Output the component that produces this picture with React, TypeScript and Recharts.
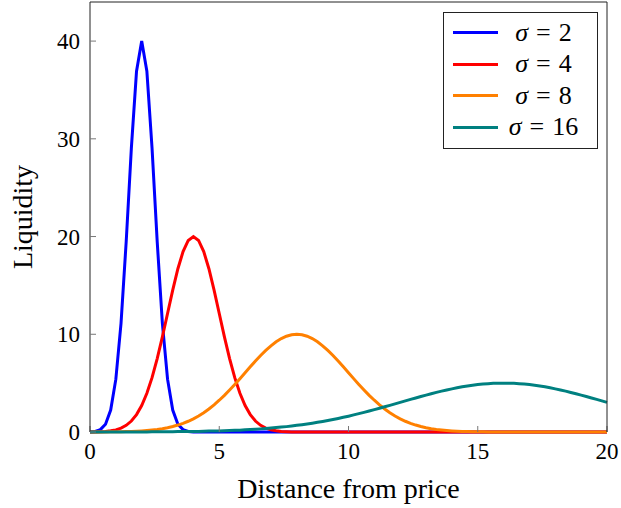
import { LineChart, Line, XAxis, YAxis, Legend } from 'recharts';

// distance from price, sampled every 0.2
const distance = [
  0, 0.2, 0.4, 0.6, 0.8, 1, 1.2, 1.4, 1.6, 1.8,
  2, 2.2, 2.4, 2.6, 2.8, 3, 3.2, 3.4, 3.6, 3.8,
  4, 4.2, 4.4, 4.6, 4.8, 5, 5.2, 5.4, 5.6, 5.8,
  6, 6.2, 6.4, 6.6, 6.8, 7, 7.2, 7.4, 7.6, 7.8,
  8, 8.2, 8.4, 8.6, 8.8, 9, 9.2, 9.4, 9.6, 9.8,
  10, 10.2, 10.4, 10.6, 10.8, 11, 11.2, 11.4, 11.6, 11.8,
  12, 12.2, 12.4, 12.6, 12.8, 13, 13.2, 13.4, 13.6, 13.8,
  14, 14.2, 14.4, 14.6, 14.8, 15, 15.2, 15.4, 15.6, 15.8,
  16, 16.2, 16.4, 16.6, 16.8, 17, 17.2, 17.4, 17.6, 17.8,
  18, 18.2, 18.4, 18.6, 18.8, 19, 19.2, 19.4, 19.6, 19.8,
  20,
];

const sigma2 = [
  0.01, 0.06, 0.24, 0.79, 2.25, 5.41, 11.12, 19.47, 29.05, 36.92,
  40, 36.92, 29.05, 19.47, 11.12, 5.41, 2.25, 0.79, 0.24, 0.06,
  0.01, 0, 0, 0, 0, 0, 0, 0, 0, 0,
  0, 0, 0, 0, 0, 0, 0, 0, 0, 0,
  0, 0, 0, 0, 0, 0, 0, 0, 0, 0,
  0, 0, 0, 0, 0, 0, 0, 0, 0, 0,
  0, 0, 0, 0, 0, 0, 0, 0, 0, 0,
  0, 0, 0, 0, 0, 0, 0, 0, 0, 0,
  0, 0, 0, 0, 0, 0, 0, 0, 0, 0,
  0, 0, 0, 0, 0, 0, 0, 0, 0, 0,
  0,
];

const sigma4 = [
  0.01, 0.01, 0.03, 0.06, 0.12, 0.22, 0.4, 0.68, 1.12, 1.78,
  2.71, 3.96, 5.56, 7.51, 9.74, 12.13, 14.52, 16.71, 18.46, 19.6,
  20, 19.6, 18.46, 16.71, 14.52, 12.13, 9.74, 7.51, 5.56, 3.96,
  2.71, 1.78, 1.12, 0.68, 0.4, 0.22, 0.12, 0.06, 0.03, 0.01,
  0.01, 0, 0, 0, 0, 0, 0, 0, 0, 0,
  0, 0, 0, 0, 0, 0, 0, 0, 0, 0,
  0, 0, 0, 0, 0, 0, 0, 0, 0, 0,
  0, 0, 0, 0, 0, 0, 0, 0, 0, 0,
  0, 0, 0, 0, 0, 0, 0, 0, 0, 0,
  0, 0, 0, 0, 0, 0, 0, 0, 0, 0,
  0,
];

const sigma8 = [
  0, 0.01, 0.01, 0.01, 0.02, 0.02, 0.03, 0.04, 0.06, 0.08,
  0.11, 0.15, 0.2, 0.26, 0.34, 0.44, 0.56, 0.71, 0.89, 1.1,
  1.35, 1.64, 1.98, 2.36, 2.78, 3.25, 3.75, 4.3, 4.87, 5.46,
  6.07, 6.67, 7.26, 7.83, 8.35, 8.82, 9.23, 9.56, 9.8, 9.95,
  10, 9.95, 9.8, 9.56, 9.23, 8.82, 8.35, 7.83, 7.26, 6.67,
  6.07, 5.46, 4.87, 4.3, 3.75, 3.25, 2.78, 2.36, 1.98, 1.64,
  1.35, 1.1, 0.89, 0.71, 0.56, 0.44, 0.34, 0.26, 0.2, 0.15,
  0.11, 0.08, 0.06, 0.04, 0.03, 0.02, 0.02, 0.01, 0.01, 0.01,
  0, 0, 0, 0, 0, 0, 0, 0, 0, 0,
  0, 0, 0, 0, 0, 0, 0, 0, 0, 0,
  0,
];

const sigma16 = [
  0, 0, 0, 0, 0, 0, 0.01, 0.01, 0.01, 0.01,
  0.01, 0.01, 0.02, 0.02, 0.02, 0.03, 0.03, 0.04, 0.04, 0.05,
  0.06, 0.06, 0.08, 0.09, 0.1, 0.11, 0.13, 0.15, 0.17, 0.19,
  0.22, 0.25, 0.28, 0.32, 0.36, 0.4, 0.45, 0.5, 0.55, 0.61,
  0.68, 0.75, 0.82, 0.9, 0.99, 1.08, 1.18, 1.28, 1.39, 1.5,
  1.62, 1.75, 1.88, 2.01, 2.15, 2.29, 2.43, 2.58, 2.73, 2.88,
  3.03, 3.18, 3.34, 3.48, 3.63, 3.77, 3.91, 4.05, 4.18, 4.3,
  4.41, 4.52, 4.62, 4.7, 4.78, 4.85, 4.9, 4.94, 4.98, 4.99,
  5, 4.99, 4.98, 4.94, 4.9, 4.85, 4.78, 4.7, 4.62, 4.52,
  4.41, 4.3, 4.18, 4.05, 3.91, 3.77, 3.63, 3.48, 3.34, 3.18,
  3.03,
];

const xTicks = [0, 5, 10, 15, 20];
const yTicks = [0, 10, 20, 30, 40];

const sigmas = ['2', '4', '8', '16'];
const colors = ['#0000ff', '#ff0000', '#ff8000', '#008080'];
const keys = ['s2', 's4', 's8', 's16'];

const data = distance.map((d, i) => ({
  d,
  s2: sigma2[i],
  s4: sigma4[i],
  s8: sigma8[i],
  s16: sigma16[i],
}));

const FONT = '"Liberation Serif", "DejaVu Serif", serif';
const tickStyle = { fontFamily: FONT, fontSize: 23, fill: '#000' };
const labelStyle = { fontFamily: FONT, fontSize: 28, fill: '#000' };

function LegendBox() {
  return (
    <div
      style={{
        border: '1px solid #222',
        background: '#fff',
        boxSizing: 'border-box',
        width: 155,
        height: 137,
        paddingTop: 4,
        fontFamily: FONT,
        fontSize: 26,
      }}
    >
      {sigmas.map((s, i) => (
        <div key={s} style={{ display: 'flex', alignItems: 'center', height: 31.5 }}>
          <div style={{ width: 45, height: 3, background: colors[i], marginLeft: 9, flexShrink: 0 }} />
          <div style={{ flex: 1, textAlign: 'center', whiteSpace: 'nowrap', paddingRight: 8 }}>
            <i>σ</i>
            <span style={{ margin: '0 8px' }}>=</span>
            {s}
          </div>
        </div>
      ))}
    </div>
  );
}

export default function App() {
  return (
    <div style={{ position: 'absolute', left: 0, top: 0 }}>
      <LineChart width={621} height={508} data={data} margin={{ top: 0, right: 0, bottom: 0, left: 0 }}>
        <XAxis
          dataKey="d"
          type="number"
          domain={[0, 20]}
          ticks={xTicks}
          height={76}
          tickSize={-6}
          tickMargin={17}
          tick={tickStyle}
          axisLine={false}
          tickLine={{ stroke: '#777' }}
          label={{ value: 'Distance from price', position: 'insideBottom', offset: 10, style: labelStyle }}
        />
        <XAxis
          xAxisId="t"
          dataKey="d"
          orientation="top"
          type="number"
          domain={[0, 20]}
          ticks={xTicks}
          height={2}
          tickSize={-6}
          tick={false}
          stroke="#222"
          tickLine={{ stroke: '#777' }}
        />
        <YAxis
          type="number"
          domain={[0, 44]}
          ticks={yTicks}
          width={90}
          tickSize={-6}
          tickMargin={16}
          tick={tickStyle}
          stroke="#222"
          tickLine={{ stroke: '#777' }}
          label={{ value: 'Liquidity', angle: -90, position: 'insideLeft', offset: 22, style: { ...labelStyle, textAnchor: 'middle' } }}
        />
        <YAxis
          yAxisId="r"
          orientation="right"
          type="number"
          domain={[0, 44]}
          ticks={yTicks}
          width={14}
          tickSize={-6}
          tick={false}
          stroke="#222"
          tickLine={{ stroke: '#777' }}
        />
        {keys.map((k, i) => (
          <Line
            key={k}
            dataKey={k}
            name={`σ = ${sigmas[i]}`}
            type="linear"
            stroke={colors[i]}
            strokeWidth={3}
            dot={false}
            isAnimationActive={false}
          />
        ))}
        <Legend
          layout="vertical"
          align="center"
          verticalAlign="middle"
          wrapperStyle={{ left: 443, top: 12, width: 155, height: 137 }}
          content={() => <LegendBox />}
        />
      </LineChart>
    </div>
  );
}
